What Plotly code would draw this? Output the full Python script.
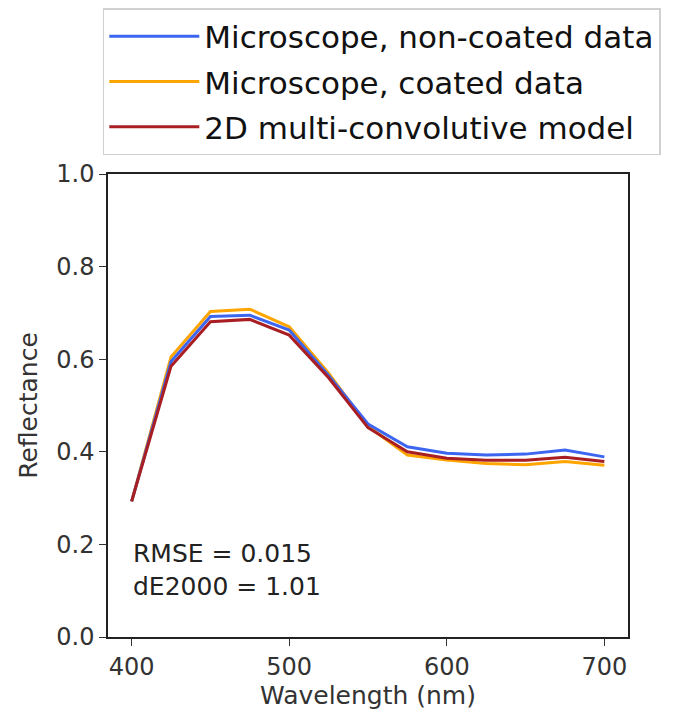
import plotly.graph_objects as go

wavelength = [400, 425, 450, 475, 500, 525, 550, 575, 600, 625, 650, 675, 700]
non_coated = [0.293, 0.595, 0.692, 0.695, 0.663, 0.565, 0.460, 0.411, 0.397, 0.393, 0.395, 0.404, 0.389]
coated = [0.293, 0.605, 0.703, 0.708, 0.670, 0.570, 0.455, 0.393, 0.382, 0.375, 0.372, 0.379, 0.371]
model = [0.293, 0.585, 0.681, 0.686, 0.652, 0.560, 0.452, 0.400, 0.386, 0.382, 0.382, 0.388, 0.379]

series_names = ["Microscope, non-coated data", "Microscope, coated data", "2D multi-convolutive model"]
series_colors = ["#3d66f0", "#ffa500", "#a81e22"]
stats_text = ["RMSE = 0.015", "dE2000 = 1.01"]
y_ticks = [0.0, 0.2, 0.4, 0.6, 0.8, 1.0]
x_ticks = [400, 500, 600, 700]

fig = go.Figure()
for i, (name, vals, col, rank) in enumerate([(series_names[1], coated, series_colors[1], 2),
                                             (series_names[0], non_coated, series_colors[0], 1),
                                             (series_names[2], model, series_colors[2], 3)]):
    fig.add_trace(go.Scatter(x=wavelength, y=vals, mode="lines", name=name,
                             legendrank=rank, legendgroup="g%d" % rank,
                             line=dict(color=col, width=3)))

fig.update_layout(
    width=669, height=711,
    margin=dict(l=100, r=49, t=166, b=82, autoexpand=False),
    paper_bgcolor="white", plot_bgcolor="white",
    font=dict(family="DejaVu Sans", color="#333333", size=24),
    legend=dict(x=-0.01, y=1.0, yref="container", xanchor="left", yanchor="top",
                traceorder="grouped",
                bordercolor="#d0d0d0", borderwidth=1.5,
                font=dict(size=31, color="#111111"),
                itemwidth=90, tracegroupgap=2),
    showlegend=True,
)

fig.update_xaxes(range=[385, 715], tickvals=x_ticks, ticks="outside", ticklen=7,
                 tickcolor="#333333", showline=True, linecolor="#222222", linewidth=1.5,
                 mirror=True, showgrid=False, zeroline=False,
                 tickfont=dict(size=24),
                 title=dict(text="Wavelength (nm)", font=dict(size=25), standoff=6))
fig.update_yaxes(range=[0, 1], tickvals=y_ticks, tickformat=".1f", ticks="outside", ticklen=7,
                 tickcolor="#333333", showline=True, linecolor="#222222", linewidth=1.5,
                 mirror=True, showgrid=False, zeroline=False,
                 tickfont=dict(size=24),
                 title=dict(text="Reflectance", font=dict(size=25), standoff=12))

fig.add_annotation(x=0.045, y=0.215, xref="paper", yref="paper", xanchor="left", yanchor="top",
                   text=stats_text[0] + "<br>" + stats_text[1], showarrow=False, align="left",
                   font=dict(size=25, color="#222222"))

fig.write_html("out.html")
